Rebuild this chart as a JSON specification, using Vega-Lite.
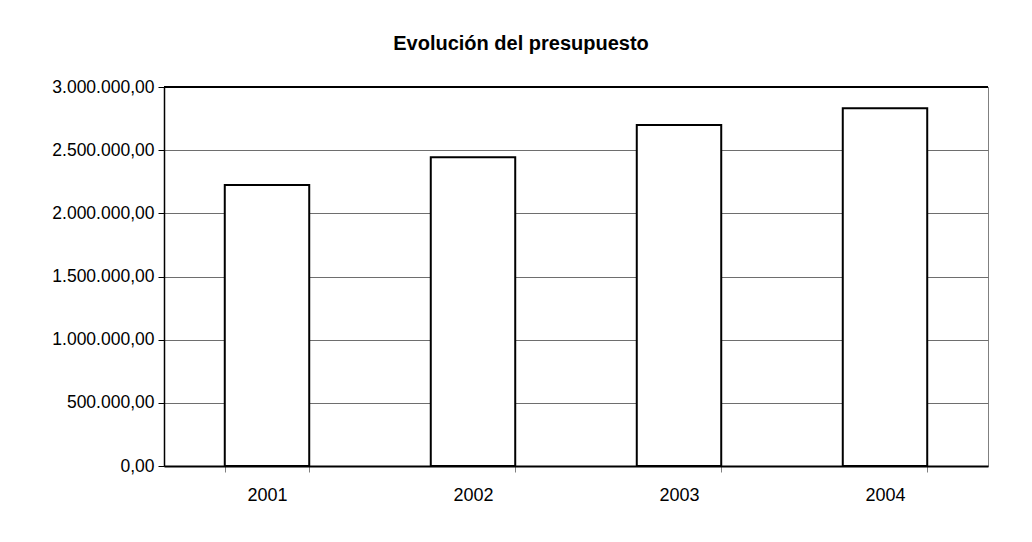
{
  "$schema": "https://vega.github.io/schema/vega-lite/v6.json",
  "autosize": "none",
  "width": 824,
  "height": 379,
  "padding": {"left": 164, "top": 87, "right": 44, "bottom": 76},
  "background": "white",
  "title": {
    "text": "Evolución del presupuesto",
    "font": "Liberation Sans",
    "fontSize": 20,
    "fontWeight": "bold",
    "color": "black",
    "anchor": "middle",
    "dx": -55,
    "offset": 24
  },
  "data": {
    "values": [
      {"year": "2001", "budget": 2224000},
      {"year": "2002", "budget": 2444000},
      {"year": "2003", "budget": 2700000},
      {"year": "2004", "budget": 2831000}
    ]
  },
  "layer": [
    {
      "mark": {"type": "bar", "fill": "white", "stroke": "black", "strokeWidth": 2},
      "encoding": {
        "x": {
          "field": "year",
          "type": "nominal",
          "scale": {"paddingInner": 0.59, "paddingOuter": 0.295},
          "axis": {
            "title": null,
            "labelAngle": 0,
            "labelFont": "Liberation Sans",
            "labelFontSize": 18,
            "labelColor": "black",
            "labelPadding": 14,
            "tickBand": "extent",
            "ticks": true,
            "tickColor": "#808080",
            "tickSize": 6,
            "domainColor": "black",
            "domainWidth": 2,
            "grid": false
          }
        },
        "y": {
          "field": "budget",
          "type": "quantitative",
          "scale": {"domain": [0, 3000000]},
          "axis": {
            "title": null,
            "format": ",.2f",
            "values": [0, 500000, 1000000, 1500000, 2000000, 2500000, 3000000],
            "labelFont": "Liberation Sans",
            "labelFontSize": 17.5,
            "labelColor": "black",
            "labelPadding": 4,
            "tickColor": "black",
            "tickSize": 6,
            "domainColor": "black",
            "domainWidth": 1.5,
            "grid": true,
            "gridColor": "#6e6e6e",
            "gridWidth": 1
          }
        }
      }
    },
    {
      "mark": {"type": "rule", "color": "black", "strokeWidth": 2},
      "encoding": {"y": {"datum": 3000000}}
    }
  ],
  "config": {
    "locale": {
      "number": {
        "decimal": ",",
        "thousands": ".",
        "grouping": [3],
        "currency": ["", " €"]
      }
    },
    "view": {"stroke": "#808080", "strokeWidth": 1}
  }
}
